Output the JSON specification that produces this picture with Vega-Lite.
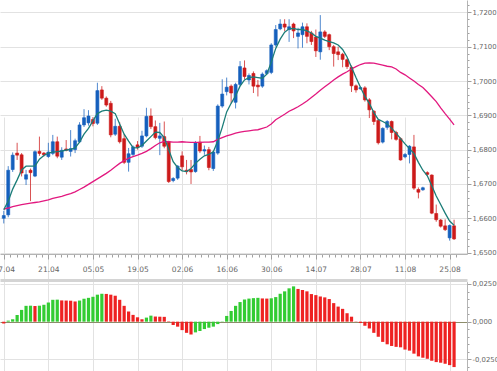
{
  "$schema": "https://vega.github.io/schema/vega-lite/v6.json",
  "width": 467,
  "height": 371,
  "autosize": {"type": "none"},
  "padding": {"left": 0, "top": 0, "right": 30, "bottom": 0},
  "background": "white",
  "config": {
    "view": {"stroke": null},
    "axis": {"labelFont": "DejaVu Sans", "labelFontSize": 7.5, "labelColor": "#666666", "domainColor": "#b4b4b4", "tickColor": "#a0a0a0", "gridColor": "#e2e2e2", "title": null},
    "axisY": {"labelFontSize": 6.9}
  },
  "data": {"values": [
    {"i":0,"o":1.6600,"h":1.6622,"l":1.6585,"c":1.6608,"f":1.6625,"s":1.6627,"m":-0.0012,"t":"down"},
    {"i":1,"o":1.6610,"h":1.6752,"l":1.6603,"c":1.6740,"f":1.6650,"s":1.6630,"m":0.0007,"t":"up"},
    {"i":2,"o":1.6742,"h":1.6792,"l":1.6735,"c":1.6784,"f":1.6685,"s":1.6634,"m":0.0016,"t":"up"},
    {"i":3,"o":1.6790,"h":1.6820,"l":1.6770,"c":1.6784,"f":1.6712,"s":1.6637,"m":0.0045,"t":"up"},
    {"i":4,"o":1.6785,"h":1.6790,"l":1.6722,"c":1.6732,"f":1.6741,"s":1.6640,"m":0.0078,"t":"up"},
    {"i":5,"o":1.6714,"h":1.6741,"l":1.6697,"c":1.6727,"f":1.6752,"s":1.6642,"m":0.0105,"t":"up"},
    {"i":6,"o":1.6740,"h":1.6745,"l":1.6650,"c":1.6733,"f":1.6752,"s":1.6644,"m":0.0106,"t":"up"},
    {"i":7,"o":1.6723,"h":1.6798,"l":1.6720,"c":1.6794,"f":1.6752,"s":1.6646,"m":0.0104,"t":"down"},
    {"i":8,"o":1.6795,"h":1.6838,"l":1.6782,"c":1.6789,"f":1.6772,"s":1.6648,"m":0.0106,"t":"up"},
    {"i":9,"o":1.6790,"h":1.6793,"l":1.6780,"c":1.6785,"f":1.6783,"s":1.6651,"m":0.0112,"t":"up"},
    {"i":10,"o":1.6780,"h":1.6820,"l":1.6776,"c":1.6793,"f":1.6790,"s":1.6654,"m":0.0127,"t":"up"},
    {"i":11,"o":1.6789,"h":1.6843,"l":1.6784,"c":1.6823,"f":1.6793,"s":1.6658,"m":0.0145,"t":"up"},
    {"i":12,"o":1.6823,"h":1.6838,"l":1.6775,"c":1.6781,"f":1.6794,"s":1.6661,"m":0.0146,"t":"up"},
    {"i":13,"o":1.6778,"h":1.6807,"l":1.6770,"c":1.6798,"f":1.6796,"s":1.6664,"m":0.0141,"t":"down"},
    {"i":14,"o":1.6802,"h":1.6828,"l":1.6795,"c":1.6798,"f":1.6799,"s":1.6668,"m":0.0140,"t":"down"},
    {"i":15,"o":1.6795,"h":1.6857,"l":1.6780,"c":1.6803,"f":1.6801,"s":1.6672,"m":0.0139,"t":"down"},
    {"i":16,"o":1.6800,"h":1.6832,"l":1.6790,"c":1.6826,"f":1.6805,"s":1.6677,"m":0.0134,"t":"down"},
    {"i":17,"o":1.6823,"h":1.6880,"l":1.6820,"c":1.6872,"f":1.6822,"s":1.6684,"m":0.0140,"t":"up"},
    {"i":18,"o":1.6872,"h":1.6918,"l":1.6866,"c":1.6893,"f":1.6845,"s":1.6691,"m":0.0152,"t":"up"},
    {"i":19,"o":1.6878,"h":1.6915,"l":1.6870,"c":1.6898,"f":1.6862,"s":1.6699,"m":0.0158,"t":"up"},
    {"i":20,"o":1.6888,"h":1.6895,"l":1.6868,"c":1.6876,"f":1.6884,"s":1.6707,"m":0.0165,"t":"up"},
    {"i":21,"o":1.6877,"h":1.6995,"l":1.6872,"c":1.6972,"f":1.6905,"s":1.6715,"m":0.0179,"t":"up"},
    {"i":22,"o":1.6974,"h":1.6985,"l":1.6945,"c":1.6950,"f":1.6912,"s":1.6723,"m":0.0185,"t":"up"},
    {"i":23,"o":1.6950,"h":1.6955,"l":1.6925,"c":1.6930,"f":1.6915,"s":1.6731,"m":0.0184,"t":"down"},
    {"i":24,"o":1.6935,"h":1.6942,"l":1.6836,"c":1.6843,"f":1.6912,"s":1.6740,"m":0.0179,"t":"down"},
    {"i":25,"o":1.6845,"h":1.6890,"l":1.6840,"c":1.6868,"f":1.6905,"s":1.6750,"m":0.0172,"t":"down"},
    {"i":26,"o":1.6868,"h":1.6880,"l":1.6818,"c":1.6823,"f":1.6875,"s":1.6760,"m":0.0145,"t":"down"},
    {"i":27,"o":1.6832,"h":1.6845,"l":1.6758,"c":1.6763,"f":1.6845,"s":1.6768,"m":0.0105,"t":"down"},
    {"i":28,"o":1.6763,"h":1.6805,"l":1.6736,"c":1.6788,"f":1.6825,"s":1.6775,"m":0.0067,"t":"down"},
    {"i":29,"o":1.6786,"h":1.6812,"l":1.6780,"c":1.6808,"f":1.6806,"s":1.6780,"m":0.0045,"t":"down"},
    {"i":30,"o":1.6814,"h":1.6825,"l":1.6800,"c":1.6806,"f":1.6805,"s":1.6784,"m":0.0029,"t":"down"},
    {"i":31,"o":1.6810,"h":1.6855,"l":1.6805,"c":1.6840,"f":1.6812,"s":1.6789,"m":0.0016,"t":"down"},
    {"i":32,"o":1.6840,"h":1.6922,"l":1.6836,"c":1.6897,"f":1.6825,"s":1.6795,"m":0.0027,"t":"up"},
    {"i":33,"o":1.6898,"h":1.6920,"l":1.6860,"c":1.6867,"f":1.6838,"s":1.6803,"m":0.0040,"t":"up"},
    {"i":34,"o":1.6867,"h":1.6885,"l":1.6830,"c":1.6835,"f":1.6851,"s":1.6812,"m":0.0034,"t":"down"},
    {"i":35,"o":1.6833,"h":1.6878,"l":1.6784,"c":1.6840,"f":1.6850,"s":1.6820,"m":0.0033,"t":"down"},
    {"i":36,"o":1.6838,"h":1.6882,"l":1.6804,"c":1.6810,"f":1.6835,"s":1.6824,"m":0.0032,"t":"down"},
    {"i":37,"o":1.6823,"h":1.6826,"l":1.6703,"c":1.6707,"f":1.6800,"s":1.6823,"m":0.0003,"t":"down"},
    {"i":38,"o":1.6710,"h":1.6720,"l":1.6705,"c":1.6716,"f":1.6765,"s":1.6822,"m":-0.0022,"t":"down"},
    {"i":39,"o":1.6717,"h":1.6755,"l":1.6712,"c":1.6752,"f":1.6748,"s":1.6822,"m":-0.0033,"t":"down"},
    {"i":40,"o":1.6782,"h":1.6795,"l":1.6740,"c":1.6750,"f":1.6738,"s":1.6823,"m":-0.0056,"t":"down"},
    {"i":41,"o":1.6740,"h":1.6770,"l":1.6728,"c":1.6736,"f":1.6736,"s":1.6822,"m":-0.0074,"t":"down"},
    {"i":42,"o":1.6742,"h":1.6770,"l":1.6700,"c":1.6735,"f":1.6745,"s":1.6821,"m":-0.0085,"t":"down"},
    {"i":43,"o":1.6736,"h":1.6825,"l":1.6733,"c":1.6820,"f":1.6760,"s":1.6821,"m":-0.0071,"t":"up"},
    {"i":44,"o":1.6822,"h":1.6840,"l":1.6790,"c":1.6796,"f":1.6772,"s":1.6821,"m":-0.0062,"t":"up"},
    {"i":45,"o":1.6796,"h":1.6812,"l":1.6785,"c":1.6800,"f":1.6782,"s":1.6822,"m":-0.0049,"t":"up"},
    {"i":46,"o":1.6800,"h":1.6808,"l":1.6740,"c":1.6748,"f":1.6786,"s":1.6822,"m":-0.0040,"t":"up"},
    {"i":47,"o":1.6745,"h":1.6797,"l":1.6738,"c":1.6793,"f":1.6794,"s":1.6823,"m":-0.0033,"t":"up"},
    {"i":48,"o":1.6790,"h":1.6932,"l":1.6785,"c":1.6927,"f":1.6825,"s":1.6830,"m":-0.0016,"t":"up"},
    {"i":49,"o":1.6927,"h":1.7005,"l":1.6922,"c":1.6962,"f":1.6865,"s":1.6835,"m":-0.0002,"t":"up"},
    {"i":50,"o":1.6969,"h":1.7010,"l":1.6958,"c":1.6982,"f":1.6910,"s":1.6840,"m":0.0038,"t":"up"},
    {"i":51,"o":1.6985,"h":1.6990,"l":1.6935,"c":1.6965,"f":1.6935,"s":1.6844,"m":0.0071,"t":"up"},
    {"i":52,"o":1.6938,"h":1.6995,"l":1.6920,"c":1.6990,"f":1.6957,"s":1.6848,"m":0.0105,"t":"up"},
    {"i":53,"o":1.6990,"h":1.7058,"l":1.6985,"c":1.7042,"f":1.6985,"s":1.6851,"m":0.0130,"t":"up"},
    {"i":54,"o":1.7038,"h":1.7060,"l":1.7005,"c":1.7013,"f":1.7003,"s":1.6853,"m":0.0147,"t":"up"},
    {"i":55,"o":1.7003,"h":1.7022,"l":1.6990,"c":1.7016,"f":1.7010,"s":1.6855,"m":0.0153,"t":"up"},
    {"i":56,"o":1.7022,"h":1.7028,"l":1.6965,"c":1.6985,"f":1.7012,"s":1.6857,"m":0.0156,"t":"up"},
    {"i":57,"o":1.6988,"h":1.7003,"l":1.6955,"c":1.6983,"f":1.7010,"s":1.6858,"m":0.0158,"t":"up"},
    {"i":58,"o":1.6985,"h":1.7025,"l":1.6980,"c":1.7020,"f":1.7008,"s":1.6862,"m":0.0154,"t":"down"},
    {"i":59,"o":1.7022,"h":1.7034,"l":1.7018,"c":1.7030,"f":1.7020,"s":1.6866,"m":0.0153,"t":"down"},
    {"i":60,"o":1.7025,"h":1.7110,"l":1.7020,"c":1.7105,"f":1.7055,"s":1.6875,"m":0.0155,"t":"up"},
    {"i":61,"o":1.7105,"h":1.7163,"l":1.7100,"c":1.7150,"f":1.7095,"s":1.6887,"m":0.0163,"t":"up"},
    {"i":62,"o":1.7152,"h":1.7180,"l":1.7148,"c":1.7166,"f":1.7122,"s":1.6895,"m":0.0185,"t":"up"},
    {"i":63,"o":1.7166,"h":1.7180,"l":1.7145,"c":1.7157,"f":1.7142,"s":1.6903,"m":0.0201,"t":"up"},
    {"i":64,"o":1.7150,"h":1.7180,"l":1.7114,"c":1.7158,"f":1.7152,"s":1.6912,"m":0.0221,"t":"up"},
    {"i":65,"o":1.7166,"h":1.7170,"l":1.7125,"c":1.7146,"f":1.7153,"s":1.6918,"m":0.0234,"t":"up"},
    {"i":66,"o":1.7130,"h":1.7155,"l":1.7095,"c":1.7140,"f":1.7150,"s":1.6925,"m":0.0217,"t":"down"},
    {"i":67,"o":1.7135,"h":1.7170,"l":1.7097,"c":1.7158,"f":1.7150,"s":1.6933,"m":0.0210,"t":"down"},
    {"i":68,"o":1.7158,"h":1.7168,"l":1.7110,"c":1.7130,"f":1.7146,"s":1.6942,"m":0.0201,"t":"down"},
    {"i":69,"o":1.7140,"h":1.7146,"l":1.7105,"c":1.7115,"f":1.7140,"s":1.6952,"m":0.0183,"t":"down"},
    {"i":70,"o":1.7128,"h":1.7150,"l":1.7070,"c":1.7088,"f":1.7130,"s":1.6962,"m":0.0176,"t":"down"},
    {"i":71,"o":1.7085,"h":1.7192,"l":1.7062,"c":1.7143,"f":1.7125,"s":1.6973,"m":0.0167,"t":"down"},
    {"i":72,"o":1.7143,"h":1.7148,"l":1.7125,"c":1.7130,"f":1.7119,"s":1.6983,"m":0.0161,"t":"down"},
    {"i":73,"o":1.7135,"h":1.7138,"l":1.7090,"c":1.7100,"f":1.7115,"s":1.6993,"m":0.0150,"t":"down"},
    {"i":74,"o":1.7100,"h":1.7105,"l":1.7042,"c":1.7080,"f":1.7111,"s":1.7003,"m":0.0123,"t":"down"},
    {"i":75,"o":1.7085,"h":1.7100,"l":1.7061,"c":1.7077,"f":1.7105,"s":1.7012,"m":0.0100,"t":"down"},
    {"i":76,"o":1.7078,"h":1.7082,"l":1.7040,"c":1.7063,"f":1.7092,"s":1.7020,"m":0.0085,"t":"down"},
    {"i":77,"o":1.7062,"h":1.7066,"l":1.7035,"c":1.7042,"f":1.7070,"s":1.7027,"m":0.0056,"t":"down"},
    {"i":78,"o":1.7040,"h":1.7045,"l":1.6968,"c":1.6986,"f":1.7040,"s":1.7035,"m":0.0033,"t":"down"},
    {"i":79,"o":1.6986,"h":1.6990,"l":1.6966,"c":1.6974,"f":1.7010,"s":1.7042,"m":0.0002,"t":"down"},
    {"i":80,"o":1.6977,"h":1.6984,"l":1.6975,"c":1.6981,"f":1.6982,"s":1.7048,"m":-0.0009,"t":"down"},
    {"i":81,"o":1.6980,"h":1.6985,"l":1.6940,"c":1.6945,"f":1.6955,"s":1.7052,"m":-0.0027,"t":"down"},
    {"i":82,"o":1.6945,"h":1.6950,"l":1.6892,"c":1.6916,"f":1.6935,"s":1.7053,"m":-0.0045,"t":"down"},
    {"i":83,"o":1.6912,"h":1.6915,"l":1.6872,"c":1.6882,"f":1.6908,"s":1.7052,"m":-0.0074,"t":"down"},
    {"i":84,"o":1.6885,"h":1.6888,"l":1.6815,"c":1.6820,"f":1.6888,"s":1.7049,"m":-0.0100,"t":"down"},
    {"i":85,"o":1.6822,"h":1.6865,"l":1.6818,"c":1.6862,"f":1.6882,"s":1.7046,"m":-0.0134,"t":"down"},
    {"i":86,"o":1.6865,"h":1.6886,"l":1.6858,"c":1.6882,"f":1.6875,"s":1.7043,"m":-0.0150,"t":"down"},
    {"i":87,"o":1.6882,"h":1.6885,"l":1.6830,"c":1.6850,"f":1.6862,"s":1.7041,"m":-0.0161,"t":"down"},
    {"i":88,"o":1.6850,"h":1.6855,"l":1.6826,"c":1.6830,"f":1.6848,"s":1.7035,"m":-0.0167,"t":"down"},
    {"i":89,"o":1.6832,"h":1.6836,"l":1.6768,"c":1.6770,"f":1.6832,"s":1.7025,"m":-0.0170,"t":"down"},
    {"i":90,"o":1.6779,"h":1.6790,"l":1.6775,"c":1.6786,"f":1.6817,"s":1.7018,"m":-0.0185,"t":"down"},
    {"i":91,"o":1.6786,"h":1.6813,"l":1.6760,"c":1.6810,"f":1.6803,"s":1.7009,"m":-0.0192,"t":"down"},
    {"i":92,"o":1.6808,"h":1.6843,"l":1.6683,"c":1.6688,"f":1.6789,"s":1.7000,"m":-0.0212,"t":"down"},
    {"i":93,"o":1.6684,"h":1.6690,"l":1.6658,"c":1.6676,"f":1.6763,"s":1.6990,"m":-0.0230,"t":"down"},
    {"i":94,"o":1.6683,"h":1.6692,"l":1.6680,"c":1.6689,"f":1.6740,"s":1.6981,"m":-0.0239,"t":"down"},
    {"i":95,"o":1.6733,"h":1.6737,"l":1.6724,"c":1.6728,"f":1.6724,"s":1.6968,"m":-0.0246,"t":"down"},
    {"i":96,"o":1.6726,"h":1.6728,"l":1.6612,"c":1.6615,"f":1.6695,"s":1.6954,"m":-0.0259,"t":"down"},
    {"i":97,"o":1.6614,"h":1.6640,"l":1.6590,"c":1.6596,"f":1.6665,"s":1.6940,"m":-0.0268,"t":"down"},
    {"i":98,"o":1.6595,"h":1.6598,"l":1.6573,"c":1.6577,"f":1.6640,"s":1.6922,"m":-0.0272,"t":"down"},
    {"i":99,"o":1.6578,"h":1.6597,"l":1.6563,"c":1.6567,"f":1.6615,"s":1.6905,"m":-0.0279,"t":"down"},
    {"i":100,"o":1.6543,"h":1.6582,"l":1.6535,"c":1.6579,"f":1.6592,"s":1.6889,"m":-0.0288,"t":"down"},
    {"i":101,"o":1.6578,"h":1.6596,"l":1.6537,"c":1.6540,"f":1.6580,"s":1.6872,"m":-0.0301,"t":"down"}
  ]},
  "resolve": {"scale": {"y": "independent"}, "axis": {"x": "independent", "y": "independent"}},
  "layer": [
    {
      "encoding": {
        "x": {"field": "i", "type": "quantitative",
          "scale": {"domain": [0.277, 102.78], "nice": false, "zero": false},
          "axis": {"orient": "bottom", "offset": -117,
            "values": [0,1.4286,2.8571,4.2857,5.7143,7.1429,8.5714,10,11.4286,12.8571,14.2857,15.7143,17.1429,18.5714,20,21.4286,22.8571,24.2857,25.7143,27.1429,28.5714,30,31.4286,32.8571,34.2857,35.7143,37.1429,38.5714,40,41.4286,42.8571,44.2857,45.7143,47.1429,48.5714,50,51.4286,52.8571,54.2857,55.7143,57.1429,58.5714,60,61.4286,62.8571,64.2857,65.7143,67.1429,68.5714,70,71.4286,72.8571,74.2857,75.7143,77.1429,78.5714,80,81.4286,82.8571,84.2857,85.7143,87.1429,88.5714,90,91.4286,92.8571,94.2857,95.7143,97.1429,98.5714,100,101.4286],
            "labelExpr": "abs(datum.value/10 - round(datum.value/10)) < 0.01 ? ['07.04','21.04','05.05','19.05','02.06','16.06','30.06','14.07','28.07','11.08','25.08'][round(datum.value/10)] : ''",
            "labelOverlap": false, "labelFlush": false, "labelPadding": 6,
            "grid": true,
            "gridOpacity": {"condition": {"test": "abs(datum.value/10 - round(datum.value/10)) < 0.01", "value": 1}, "value": 0},
            "tickSize": {"condition": {"test": "abs(datum.value/10 - round(datum.value/10)) < 0.01", "value": 5}, "value": 3}
          }
        }
      },
      "layer": [
        {
          "mark": {"type": "rule", "clip": true, "strokeWidth": 1, "opacity": 0.75},
          "encoding": {
            "y": {"field": "l", "type": "quantitative",
              "scale": {"domain": [1.6496, 1.7236], "range": [254, 0], "nice": false, "zero": false},
              "axis": {"orient": "right", "values": [1.650,1.652,1.654,1.656,1.658,1.660,1.662,1.664,1.666,1.668,1.670,1.672,1.674,1.676,1.678,1.680,1.682,1.684,1.686,1.688,1.690,1.692,1.694,1.696,1.698,1.700,1.702,1.704,1.706,1.708,1.710,1.712,1.714,1.716,1.718,1.720,1.722],
                "labelExpr": "abs(datum.value*100 - round(datum.value*100)) < 0.01 ? replace(format(datum.value, '.4f'), '.', ',') : ''",
                "labelOverlap": false, "labelPadding": 1, "grid": true,
                "gridOpacity": {"condition": {"test": "abs(datum.value*100 - round(datum.value*100)) < 0.01", "value": 1}, "value": 0},
                "tickSize": {"condition": {"test": "abs(datum.value*100 - round(datum.value*100)) < 0.01", "value": 4}, "value": 2}}},
            "y2": {"field": "h"},
            "color": {"condition": {"test": "datum.c >= datum.o", "value": "#1560bd"}, "value": "#cc1a1a"}
          }
        },
        {
          "mark": {"type": "bar", "clip": true, "width": 3, "strokeWidth": 0.6},
          "encoding": {
            "y": {"field": "o", "type": "quantitative",
              "scale": {"domain": [1.6496, 1.7236], "range": [254, 0], "nice": false, "zero": false},
              "axis": {"orient": "right", "values": [1.650,1.652,1.654,1.656,1.658,1.660,1.662,1.664,1.666,1.668,1.670,1.672,1.674,1.676,1.678,1.680,1.682,1.684,1.686,1.688,1.690,1.692,1.694,1.696,1.698,1.700,1.702,1.704,1.706,1.708,1.710,1.712,1.714,1.716,1.718,1.720,1.722],
                "labelExpr": "abs(datum.value*100 - round(datum.value*100)) < 0.01 ? replace(format(datum.value, '.4f'), '.', ',') : ''",
                "labelOverlap": false, "labelPadding": 1, "grid": true,
                "gridOpacity": {"condition": {"test": "abs(datum.value*100 - round(datum.value*100)) < 0.01", "value": 1}, "value": 0},
                "tickSize": {"condition": {"test": "abs(datum.value*100 - round(datum.value*100)) < 0.01", "value": 4}, "value": 2}}},
            "y2": {"field": "c"},
            "color": {"condition": {"test": "datum.c >= datum.o", "value": "#1560bd"}, "value": "#cc1a1a"},
            "stroke": {"condition": {"test": "datum.c >= datum.o", "value": "#1560bd"}, "value": "#cc1a1a"}
          }
        },
        {
          "mark": {"type": "line", "clip": true, "color": "#e2187f", "strokeWidth": 1.3},
          "encoding": {
            "y": {"field": "s", "type": "quantitative",
              "scale": {"domain": [1.6496, 1.7236], "range": [254, 0], "nice": false, "zero": false},
              "axis": {"orient": "right", "values": [1.650,1.652,1.654,1.656,1.658,1.660,1.662,1.664,1.666,1.668,1.670,1.672,1.674,1.676,1.678,1.680,1.682,1.684,1.686,1.688,1.690,1.692,1.694,1.696,1.698,1.700,1.702,1.704,1.706,1.708,1.710,1.712,1.714,1.716,1.718,1.720,1.722],
                "labelExpr": "abs(datum.value*100 - round(datum.value*100)) < 0.01 ? replace(format(datum.value, '.4f'), '.', ',') : ''",
                "labelOverlap": false, "labelPadding": 1, "grid": true,
                "gridOpacity": {"condition": {"test": "abs(datum.value*100 - round(datum.value*100)) < 0.01", "value": 1}, "value": 0},
                "tickSize": {"condition": {"test": "abs(datum.value*100 - round(datum.value*100)) < 0.01", "value": 4}, "value": 2}}}
          }
        },
        {
          "mark": {"type": "line", "clip": true, "color": "#1b7d78", "strokeWidth": 1.3},
          "encoding": {
            "y": {"field": "f", "type": "quantitative",
              "scale": {"domain": [1.6496, 1.7236], "range": [254, 0], "nice": false, "zero": false},
              "axis": {"orient": "right", "values": [1.650,1.652,1.654,1.656,1.658,1.660,1.662,1.664,1.666,1.668,1.670,1.672,1.674,1.676,1.678,1.680,1.682,1.684,1.686,1.688,1.690,1.692,1.694,1.696,1.698,1.700,1.702,1.704,1.706,1.708,1.710,1.712,1.714,1.716,1.718,1.720,1.722],
                "labelExpr": "abs(datum.value*100 - round(datum.value*100)) < 0.01 ? replace(format(datum.value, '.4f'), '.', ',') : ''",
                "labelOverlap": false, "labelPadding": 1, "grid": true,
                "gridOpacity": {"condition": {"test": "abs(datum.value*100 - round(datum.value*100)) < 0.01", "value": 1}, "value": 0},
                "tickSize": {"condition": {"test": "abs(datum.value*100 - round(datum.value*100)) < 0.01", "value": 4}, "value": 2}}}
          }
        }
      ]
    },
    {
      "encoding": {
        "x": {"field": "i", "type": "quantitative",
          "scale": {"domain": [0.277, 102.78], "nice": false, "zero": false},
          "axis": {"orient": "top", "offset": -280, "values": [0,10,20,30,40,50,60,70,80,90,100],
            "labels": false, "ticks": false, "grid": true, "domainWidth": 3, "domainColor": "#d4d4d4"}
        }
      },
      "layer": [
        {
          "mark": {"type": "bar", "clip": true, "width": 3.2},
          "encoding": {
            "y": {"field": "m", "type": "quantitative", "stack": null,
              "scale": {"domain": [-0.0327, 0.0265], "range": [371, 281.7], "nice": false, "zero": false},
              "axis": {"orient": "right", "values": [-0.03,-0.025,-0.02,-0.015,-0.01,-0.005,0,0.005,0.01,0.015,0.02,0.025],
                "labelExpr": "abs(datum.value-0.025) < 0.0001 ? '0,02500' : abs(datum.value+0.025) < 0.0001 ? '-0,0250' : abs(datum.value) < 0.0001 ? '0,000' : ''",
                "labelOverlap": false, "labelPadding": 1, "grid": true,
                "gridOpacity": {"condition": {"test": "abs(abs(datum.value)-0.025) < 0.0001 || abs(datum.value) < 0.0001", "value": 1}, "value": 0},
                "gridColor": {"condition": {"test": "abs(datum.value) < 0.0001", "value": "#8c8c6a"}, "value": "#e2e2e2"},
                "tickSize": {"condition": {"test": "abs(abs(datum.value)-0.025) < 0.0001 || abs(datum.value) < 0.0001", "value": 4}, "value": 2}}},
            "y2": {"datum": 0},
            "color": {"field": "t", "type": "nominal", "scale": {"domain": ["up", "down"], "range": ["#33cc33", "#ee2222"]}, "legend": null}
          }
        }
      ]
    }
  ]
}
